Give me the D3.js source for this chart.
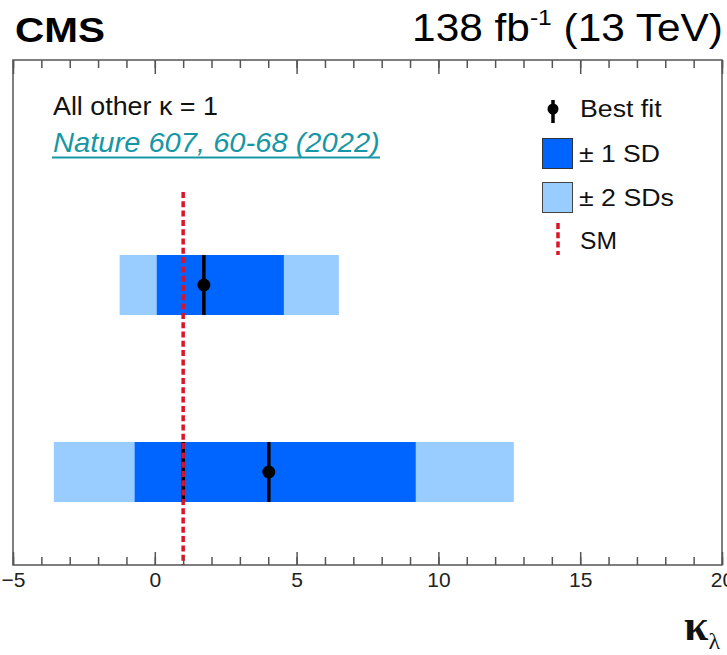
<!DOCTYPE html>
<html>
<head>
<meta charset="utf-8">
<script src="https://cdn.jsdelivr.net/npm/d3@7"></script>
<style>
  body { margin: 0; background: #fff; }
  svg { display: block; }
</style>
</head>
<body>
<svg id="chart" width="727" height="655"></svg>
<script>
// kappa_lambda constraints (all other couplings fixed to SM)
const rows = ["HH", "H + HH"];
const bestFit = [1.73, 4.02];
const sd1Low = [0.07, -0.71];
const sd1High = [4.55, 9.20];
const sd2Low = [-1.24, -3.56];
const sd2High = [6.49, 12.66];
const smValue = 1;

const xMajorTicks = [-5, 0, 5, 10, 15, 20];
const xTickLabels = ["\u22125", "0", "5", "10", "15", "20"];
const xMinorTicks = d3.range(-5, 21, 1);
const legendLabels = ["Best fit", "\u00b1 1 SD", "\u00b1 2 SDs", "SM"];

const C1 = "#0064ff", C2 = "#99ccff", RED = "#dc1428", AXIS = "#555";
const SANS = "'Liberation Sans', Arial, Helvetica, sans-serif";

const svg = d3.select("#chart");
const frame = { left: 13, right: 722, top: 60, bottom: 565 };
const x = d3.scaleLinear().domain([-5, 20]).range([frame.left, frame.right]);
const y = d3.scalePoint().domain(rows).range([285, 472]);
const bandH = 60;

// stretch a text element horizontally so it spans `w` pixels, keeping the anchor edge fixed
function fit(sel, w, anchorRight) {
  const bb = sel.node().getBBox();
  const k = w / bb.width;
  const ax = anchorRight ? bb.x + bb.width : bb.x;
  sel.attr("transform", `translate(${ax},0) scale(${k},1) translate(${-ax},0)`);
}

const data = rows.map((r, i) => ({
  row: r, best: bestFit[i], lo1: sd1Low[i], hi1: sd1High[i], lo2: sd2Low[i], hi2: sd2High[i]
}));

// ±2 SD bands
svg.append("g").selectAll("rect").data(data).join("rect")
  .attr("x", d => x(d.lo2)).attr("width", d => x(d.hi2) - x(d.lo2))
  .attr("y", d => y(d.row) - bandH / 2).attr("height", bandH)
  .attr("fill", C2);

// ±1 SD bands
svg.append("g").selectAll("rect").data(data).join("rect")
  .attr("x", d => x(d.lo1)).attr("width", d => x(d.hi1) - x(d.lo1))
  .attr("y", d => y(d.row) - bandH / 2).attr("height", bandH)
  .attr("fill", C1);

// best-fit markers
const bf = svg.append("g").selectAll("g").data(data).join("g");
bf.append("line")
  .attr("x1", d => x(d.best)).attr("x2", d => x(d.best))
  .attr("y1", d => y(d.row) - bandH / 2).attr("y2", d => y(d.row) + bandH / 2)
  .attr("stroke", "#000").attr("stroke-width", 3.5);
bf.append("circle")
  .attr("cx", d => x(d.best)).attr("cy", d => y(d.row)).attr("r", 6.5)
  .attr("fill", "#000");

// SM reference line
svg.append("line")
  .attr("x1", x(smValue)).attr("x2", x(smValue))
  .attr("y1", y(rows[1]) - bandH / 2).attr("y2", y(rows[1]) + bandH / 2)
  .attr("stroke", "#000").attr("stroke-width", 3.5);
svg.append("line")
  .attr("x1", x(smValue)).attr("x2", x(smValue))
  .attr("y1", 192).attr("y2", frame.bottom)
  .attr("stroke", RED).attr("stroke-width", 3.5)
  .attr("stroke-dasharray", "6 3.3");

// frame
svg.append("rect")
  .attr("x", frame.left).attr("y", frame.top)
  .attr("width", frame.right - frame.left).attr("height", frame.bottom - frame.top)
  .attr("fill", "none").attr("stroke", AXIS).attr("stroke-width", 1.5);

// axes: minor and major ticks on bottom and top
function styleAxis(g) {
  g.select(".domain").remove();
  g.selectAll(".tick line").attr("stroke", AXIS).attr("stroke-width", 1.5);
}
svg.append("g").attr("transform", `translate(0,${frame.bottom})`)
  .call(d3.axisBottom(x).tickValues(xMinorTicks).tickSize(-8).tickFormat(""))
  .call(styleAxis);
svg.append("g").attr("transform", `translate(0,${frame.bottom})`)
  .call(d3.axisBottom(x).tickValues(xMajorTicks).tickSize(-13).tickPadding(7)
    .tickFormat((d, i) => xTickLabels[i]))
  .call(styleAxis)
  .call(g => g.selectAll("text").attr("font-family", SANS).attr("font-size", 21).attr("fill", "#222"));
svg.append("g").attr("transform", `translate(0,${frame.top})`)
  .call(d3.axisTop(x).tickValues(xMinorTicks).tickSize(-8).tickFormat(""))
  .call(styleAxis);
svg.append("g").attr("transform", `translate(0,${frame.top})`)
  .call(d3.axisTop(x).tickValues(xMajorTicks).tickSize(-14).tickFormat(""))
  .call(styleAxis);

// axis title
const xt = svg.append("text").attr("x", 684).attr("y", 640)
  .attr("font-family", "'Liberation Serif', 'Times New Roman', serif").attr("font-size", 44)
  .attr("font-weight", "bold").attr("fill", "#111");
xt.append("tspan").text("\u03ba");
xt.append("tspan").attr("font-size", 24).attr("font-weight", "normal").attr("dy", 9).text("\u03bb");

// header
const cms = svg.append("text").attr("x", 15).attr("y", 42)
  .attr("font-family", SANS).attr("font-weight", "bold").attr("font-size", 36).text("CMS");
fit(cms, 90, false);

const lumi = svg.append("text").attr("x", 723).attr("y", 41).attr("text-anchor", "end")
  .attr("font-family", SANS).attr("font-size", 38);
lumi.append("tspan").text("138 fb");
lumi.append("tspan").attr("font-size", 22).attr("dy", -16).text("-1");
lumi.append("tspan").attr("dy", 16).text(" (13 TeV)");
fit(lumi, 311, true);

// annotations
const note = svg.append("text").attr("x", 53).attr("y", 115)
  .attr("font-family", SANS).attr("font-size", 25).attr("fill", "#111");
note.append("tspan").text("All other ");
note.append("tspan").text("\u03ba");
note.append("tspan").text(" = 1");
fit(note, 165, false);

const TEAL = "#1797a6";
const ref = svg.append("text").attr("x", 53).attr("y", 152)
  .attr("font-family", SANS).attr("font-style", "italic").attr("font-size", 28)
  .attr("fill", TEAL).text("Nature 607, 60-68 (2022)");
fit(ref, 327, false);
svg.append("line").attr("x1", 52).attr("x2", 380).attr("y1", 157.5).attr("y2", 157.5)
  .attr("stroke", TEAL).attr("stroke-width", 2);

// legend
const lg = svg.append("g");
lg.append("line").attr("x1", 553).attr("x2", 553).attr("y1", 100).attr("y2", 123)
  .attr("stroke", "#000").attr("stroke-width", 3.5);
lg.append("circle").attr("cx", 553).attr("cy", 109).attr("r", 5.5).attr("fill", "#000");
lg.append("rect").attr("x", 542.5).attr("y", 138.5).attr("width", 30).attr("height", 30)
  .attr("fill", C1).attr("stroke", "#333").attr("stroke-width", 1);
lg.append("rect").attr("x", 542.5).attr("y", 182.5).attr("width", 30).attr("height", 30)
  .attr("fill", C2).attr("stroke", "#444").attr("stroke-width", 1);
lg.append("line").attr("x1", 558).attr("x2", 558).attr("y1", 223).attr("y2", 255)
  .attr("stroke", RED).attr("stroke-width", 3.5).attr("stroke-dasharray", "6 3.3");

const legendY = [117, 162, 206, 249];
const legendX = [580, 579, 579, 580];
const legendW = [82, 81, 95, 37];
legendLabels.forEach((t, i) => {
  const el = lg.append("text").attr("x", legendX[i]).attr("y", legendY[i])
    .attr("font-family", SANS).attr("font-size", 24).attr("fill", "#111").text(t);
  fit(el, legendW[i], false);
});
</script>
</body>
</html>
